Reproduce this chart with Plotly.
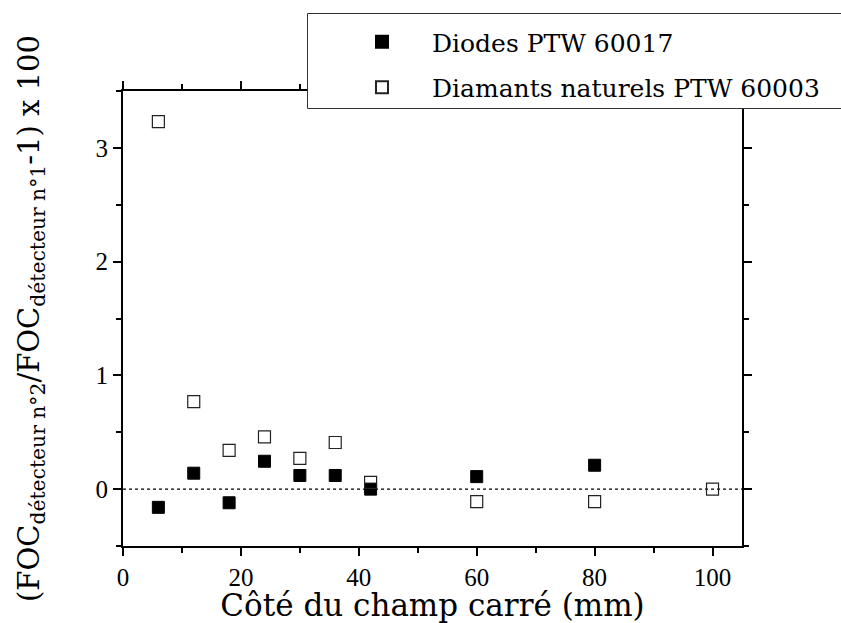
import plotly.graph_objects as go

# Data
sizes_diodes = [6, 12, 18, 24, 30, 36, 42, 60, 80]
vals_diodes = [-0.16, 0.14, -0.12, 0.245, 0.12, 0.12, 0.0, 0.11, 0.21]
sizes_diam = [6, 12, 18, 24, 30, 36, 42, 60, 80, 100]
vals_diam = [3.23, 0.77, 0.34, 0.46, 0.27, 0.41, 0.06, -0.11, -0.11, 0.0]
x_ticks = [0, 20, 40, 60, 80, 100]
y_ticks = [0, 1, 2, 3]

TICKFONT = "Liberation Serif"
TEXTFONT = "DejaVu Serif"
W, H = 841, 623
L, R, T, B = 123, 99, 91, 77
pw, ph = W - L - R, H - T - B

def px(xp):
    return (xp - L) / pw

def py(yp):
    return (H - B - yp) / ph

fig = go.Figure()
fig.add_trace(go.Scatter(
    x=sizes_diodes, y=vals_diodes, mode="markers", name="Diodes PTW 60017",
    legendgroup="a",
    marker=dict(symbol="square", size=12, color="black", line=dict(color="black", width=1)),
))
fig.add_trace(go.Scatter(
    x=sizes_diam, y=vals_diam, mode="markers", name="Diamants naturels PTW 60003",
    legendgroup="b",
    marker=dict(symbol="square-open", size=12, color="#222", line=dict(width=1.2)),
))

fig.add_shape(type="line", xref="paper", yref="y", x0=0, x1=1, y0=0, y1=0,
              line=dict(color="black", width=1.3, dash="dot"), layer="below")

# legend box (extends beyond right edge)
fig.add_shape(type="rect", xref="paper", yref="paper",
              x0=px(307.5), x1=px(850), y0=py(108.5), y1=py(13.5),
              line=dict(color="#333", width=1), fillcolor="white", layer="above")

axis_common = dict(
    showline=True, linecolor="black", linewidth=2, mirror="ticks",
    ticks="outside", ticklen=8, tickwidth=2, tickcolor="black",
    showgrid=False, zeroline=False, automargin=False,
    tickfont=dict(family=TICKFONT, size=25, color="black"),
)

fig.update_xaxes(
    range=[0, 105], tickvals=x_ticks, ticktext=[str(v) for v in x_ticks],
    minor=dict(tickvals=[10, 30, 50, 70, 90], ticks="outside", ticklen=5, tickwidth=2, tickcolor="black"),
    title=dict(text="Côté du champ carré (mm)", font=dict(family=TEXTFONT, size=31, color="black"), standoff=5),
    **axis_common,
)
fig.update_yaxes(
    range=[-0.5, 3.5], tickvals=y_ticks, ticktext=[str(v) for v in y_ticks],
    minor=dict(tickvals=[-0.5, 0.5, 1.5, 2.5, 3.5], ticks="outside", ticklen=5, tickwidth=2, tickcolor="black"),
    title=dict(text="(FOC<sub>détecteur n°2</sub>/FOC<sub>détecteur n°1</sub>-1) x 100",
               font=dict(family=TEXTFONT, size=29, color="black"), standoff=47),
    **axis_common,
)

fig.update_layout(
    width=W, height=H,
    margin=dict(l=L, r=R, t=T, b=B, autoexpand=False),
    paper_bgcolor="white", plot_bgcolor="white",
    font=dict(family=TEXTFONT, color="black"),
    showlegend=True,
    legend=dict(x=px(332), y=py(19), xanchor="left", yanchor="top",
                bgcolor="rgba(0,0,0,0)", borderwidth=0,
                font=dict(family=TEXTFONT, size=25, color="black"),
                itemwidth=90, itemsizing="constant", tracegroupgap=10),
)

fig.write_html("out.html", config={"displayModeBar": False},
               post_script="document.body.style.margin='0';document.body.style.padding='0';")
